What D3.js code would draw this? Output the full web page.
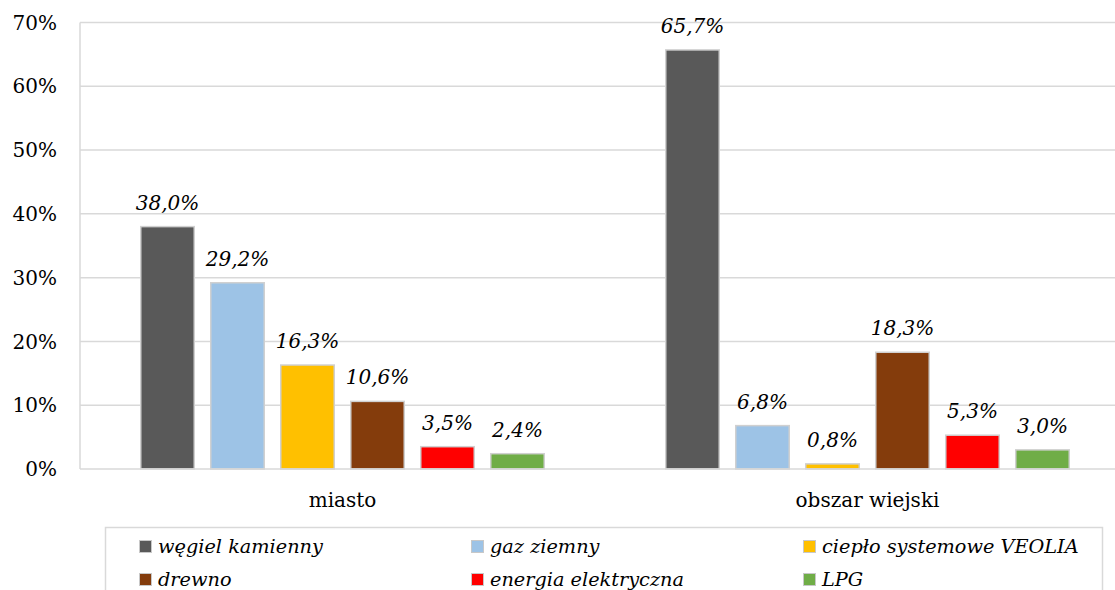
<!DOCTYPE html>
<html><head><meta charset="utf-8">
<script src="https://cdn.jsdelivr.net/npm/d3@7"></script>
<style>
body{margin:0;background:#fff}
svg{display:block;font-family:"DejaVu Serif",serif}
</style>
</head><body><div id="chart"></div>
<script>
// data
const categories = ["miasto", "obszar wiejski"];
const fuels = ["węgiel kamienny", "gaz ziemny", "ciepło systemowe VEOLIA", "drewno", "energia elektryczna", "LPG"];
const colors = ["#595959", "#9dc3e6", "#ffc000", "#843c0c", "#ff0000", "#70ad47"];
const miasto = [38.0, 29.2, 16.3, 10.6, 3.5, 2.4];
const wies = [65.7, 6.8, 0.8, 18.3, 5.3, 3.0];
const yTicks = [0, 10, 20, 30, 40, 50, 60, 70];

const W = 1115, H = 590;
const FS = "20px";
const svg = d3.select("#chart").append("svg").attr("width", W).attr("height", H);

const x0 = d3.scaleBand().domain(categories).range([80, 1130]);
const x1 = d3.scaleBand().domain(fuels).range([0, x0.bandwidth()])
  .paddingInner(15 / 70).paddingOuter(60 / 70);
const y = d3.scaleLinear().domain([0, 70]).range([469, 22.5]);
const color = d3.scaleOrdinal().domain(fuels).range(colors);

// gridlines
svg.append("g").selectAll("line").data(yTicks.slice(1)).enter().append("line")
  .attr("x1", 80).attr("x2", W).attr("y1", d => y(d)).attr("y2", d => y(d))
  .attr("stroke", "#d9d9d9").attr("stroke-width", 1.5);
svg.append("line").attr("x1", 80).attr("x2", 80).attr("y1", y(70)).attr("y2", y(0))
  .attr("stroke", "#d9d9d9").attr("stroke-width", 1.5);

// y labels
svg.append("g").selectAll("text").data(yTicks).enter().append("text")
  .attr("x", 57).attr("y", d => y(d)).attr("dy", "0.36em").attr("text-anchor", "end")
  .attr("font-size", FS).attr("fill", "#000").text(d => d + "%");

// bars
const rows = categories.map((c, i) => ({cat: c, vals: (i === 0 ? miasto : wies).map((v, j) => ({fuel: fuels[j], v}))}));
const grp = svg.append("g").selectAll("g").data(rows).enter().append("g")
  .attr("transform", d => "translate(" + x0(d.cat) + ",0)");
grp.selectAll("rect").data(d => d.vals).enter().append("rect")
  .attr("x", d => x1(d.fuel) + 0.75).attr("width", x1.bandwidth() - 1.5)
  .attr("y", d => y(d.v)).attr("height", d => y(0) - y(d.v))
  .attr("fill", d => color(d.fuel)).attr("stroke", "#d0d0d0").attr("stroke-width", 1.5);
grp.selectAll("text").data(d => d.vals).enter().append("text")
  .attr("x", d => x1(d.fuel) + x1.bandwidth() / 2).attr("y", d => y(d.v) - 17)
  .attr("text-anchor", "middle").attr("font-size", FS).attr("font-style", "italic")
  .text(d => d.v.toFixed(1).replace(".", ",") + "%");

// bottom axis line
svg.append("line").attr("x1", 80).attr("x2", W).attr("y1", y(0)).attr("y2", y(0))
  .attr("stroke", "#d9d9d9").attr("stroke-width", 1.5);

// x labels
svg.append("g").selectAll("text").data(categories).enter().append("text")
  .attr("x", d => x0(d) + x0.bandwidth() / 2).attr("y", 507)
  .attr("text-anchor", "middle").attr("font-size", FS).text(d => d);

// legend
svg.append("rect").attr("x", 105.5).attr("y", 527.5).attr("width", 997).attr("height", 100)
  .attr("fill", "none").attr("stroke", "#d9d9d9").attr("stroke-width", 1.5);
const colX = [139, 471, 803], rowY = [540, 573];
const leg = svg.append("g").selectAll("g").data(fuels).enter().append("g")
  .attr("transform", (d, i) => "translate(" + colX[i % 3] + "," + rowY[Math.floor(i / 3)] + ")");
leg.append("rect").attr("x", 0.5).attr("y", 0.5).attr("width", 12).attr("height", 12)
  .attr("fill", d => color(d)).attr("stroke", "#c8c8c8").attr("stroke-width", 1);
leg.append("text").attr("x", 19).attr("y", 13).attr("font-size", "19.3px").attr("font-style", "italic")
  .text(d => d);
</script>
</body></html>
